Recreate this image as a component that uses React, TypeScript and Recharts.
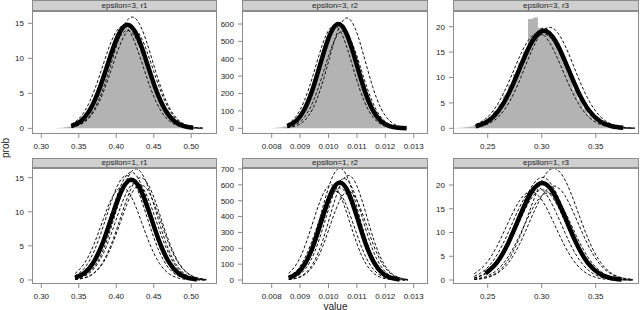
import { ComposedChart, Line, Area, XAxis, YAxis } from 'recharts';

const FONT = '"Liberation Sans", Arial, Helvetica, sans-serif';
const LINE_GREY = '#8c8c8c';
const AXIS_W = 30;
const AXIS_H = 20;
const PAD_TOP = 6;

// tick labels per column
const r1Ticks = [0.3, 0.35, 0.4, 0.45, 0.5];
const r2Ticks = [0.008, 0.009, 0.01, 0.011, 0.012, 0.013];
const r3Ticks = [0.25, 0.3, 0.35];

// ---- epsilon=3, r1
const e3r1Grid = [0.34, 0.3525, 0.365, 0.3775, 0.39, 0.4025, 0.415, 0.4275, 0.44, 0.4525, 0.465, 0.4775, 0.49, 0.5025, 0.515];
const e3r1Fit = [0.31, 1.02, 2.66, 5.64, 9.64, 13.3, 14.8, 13.3, 9.64, 5.64, 2.66, 1.02, 0.31, 0.08, null];
const e3r1Draws = [
  [0.17, 0.62, 1.81, 4.28, 8.14, 12.49, 15.48, 15.48, 12.49, 8.14, 4.28, 1.81, 0.62, 0.17, 0.04],
  [0.57, 1.66, 3.93, 7.47, 11.47, 14.21, 14.21, 11.47, 7.47, 3.93, 1.66, 0.57, 0.16, 0.04, 0.01],
  [0.29, 0.96, 2.52, 5.33, 9.11, 12.57, 14.0, 12.57, 9.11, 5.33, 2.52, 0.96, 0.29, 0.07, 0.01],
  [0.15, 0.56, 1.63, 3.85, 7.32, 11.24, 13.92, 13.92, 11.24, 7.32, 3.85, 1.63, 0.56, 0.15, 0.03],
];
const e3r1Hist = [
  0, 0, 0.01, 0.02, 0.05, 0.09, 0.15, 0.26, 0.44, 0.7,
  1.08, 1.63, 2.37, 3.33, 4.45, 5.87, 7.37, 9.3, 10.6, 11.8,
  13.3, 14.4, 14.3, 14.7, 13.9, 12.9, 11.2, 10.0, 8.5, 6.8,
  5.3, 4.0, 2.9, 2.06, 1.39, 0.92, 0.58, 0.36, 0.21, 0.12,
  0.07, 0.04, 0.02, 0.01, 0,
];

// ---- epsilon=3, r2
const e3r2Grid = [0.00855, 0.00885, 0.00915, 0.00945, 0.00975, 0.01005, 0.01035, 0.01065, 0.01095, 0.01125, 0.01155, 0.01185, 0.01215, 0.01245, 0.01275];
const e3r2Fit = [12.6, 41.2, 108, 229, 391, 539, 600, 539, 391, 229, 108, 41.2, 12.6, 3.1, 0.6];
const e3r2Draws = [
  [3.3, 13.3, 43.6, 114, 242, 413, 570, 635, 570, 413, 242, 114, 43.6, 13.3, 3.3],
  [23.1, 67.3, 159, 302, 464, 574, 574, 464, 302, 159, 67.3, 23.1, 6.4, 1.4, 0.3],
  [6.0, 21.9, 63.8, 151, 287, 440, 545, 545, 440, 287, 151, 63.8, 21.9, 6.0, 1.3],
  [12.8, 41.8, 110, 232, 397, 548, 610, 548, 397, 232, 110, 41.8, 12.8, 3.2, 0.6],
];
const e3r2Hist = [
  0.16, 0.3, 0.5, 0.9, 1.5, 2.5, 4.1, 6.5, 10.1, 15.2,
  22.6, 32.8, 46.7, 64.8, 88, 117, 151, 192, 238, 288,
  342, 402, 448, 496, 525, 569, 588,
  595, 598, 560, 537, 480, 425, 375, 325, 288, 238, 192,
  151, 117, 88, 64.8, 46.7, 32.8, 22.6, 15.2, 10.1, 6.5,
  4.1, 2.5, 1.5, 0.9, 0.5, 0.3,
];

// ---- epsilon=3, r3
const e3r3Grid = [0.239, 0.2495, 0.26, 0.2705, 0.281, 0.2915, 0.302, 0.3125, 0.323, 0.3335, 0.344, 0.3545, 0.365, 0.3755, 0.386];
const e3r3Fit = [0.4, 1.32, 3.46, 7.32, 12.5, 17.24, 19.2, 17.24, 12.5, 7.32, 3.46, 1.32, 0.4, 0.1, null];
const e3r3Draws = [
  [0.21, 0.78, 2.27, 5.35, 10.18, 15.64, 19.37, 19.37, 15.64, 10.18, 5.35, 2.27, 0.78, 0.21, 0.05],
  [0.74, 2.14, 5.06, 9.62, 14.77, 18.3, 18.3, 14.77, 9.62, 5.06, 2.14, 0.74, 0.2, 0.05, 0.01],
  [0.41, 1.35, 3.55, 7.51, 12.82, 17.69, 19.7, 17.69, 12.82, 7.51, 3.55, 1.35, 0.41, 0.1, 0.02],
  [0.39, 1.27, 3.33, 7.05, 12.04, 16.61, 18.5, 16.61, 12.04, 7.05, 3.33, 1.27, 0.39, 0.1, 0.02],
];
const e3r3Hist = [
  0.05, 0.1, 0.19, 0.35, 0.59, 0.97, 1.51, 2.33, 3.39, 4.79,
  6.51, 8.51, 10.7, 12.9, 15.1, 21.5, 21.8, 19.8, 19.6, 18.2,
  16.9, 15.0, 12.8, 10.6, 7.6, 5.6, 3.9, 2.6, 1.7, 1.1,
  0.8, 0.57, 0.34, 0.19, 0.1, 0.05, 0.03,
];

// ---- epsilon=1, r1
const e1r1Grid = [0.345, 0.3575, 0.37, 0.3825, 0.395, 0.4075, 0.42, 0.4325, 0.445, 0.4575, 0.47, 0.4825, 0.495, 0.5075, 0.52];
const e1r1Fit = [0.31, 1.01, 2.65, 5.6, 9.57, 13.2, 14.7, 13.2, 9.57, 5.6, 2.65, 1.01, 0.31, 0.08, null];
const e1r1Draws = [
  [0.18, 0.64, 1.86, 4.38, 8.34, 12.81, 15.87, 15.87, 12.81, 8.34, 4.38, 1.86, 0.64, 0.18, 0.04],
  [0.93, 2.45, 5.18, 8.85, 12.21, 13.6, 12.21, 8.85, 5.18, 2.45, 0.93, 0.29, 0.07, 0.01, 0],
  [0.07, 0.29, 0.96, 2.52, 5.33, 9.11, 12.57, 14.0, 12.57, 9.11, 5.33, 2.52, 0.96, 0.29, 0.07],
  [0.6, 1.74, 4.12, 7.83, 12.02, 14.9, 14.9, 12.02, 7.83, 4.12, 1.74, 0.6, 0.17, 0.04, 0.01],
  [0.33, 1.08, 2.84, 6.02, 10.29, 14.19, 15.8, 14.19, 10.29, 6.02, 2.84, 1.08, 0.33, 0.08, 0.02],
  [0.15, 0.56, 1.63, 3.85, 7.32, 11.24, 13.92, 13.92, 11.24, 7.32, 3.85, 1.63, 0.56, 0.15, 0.03],
  [0.08, 0.32, 1.03, 2.7, 5.72, 9.77, 13.47, 15.0, 13.47, 9.77, 5.72, 2.7, 1.03, 0.32, 0.08],
];

// ---- epsilon=1, r2
const e1r2Grid = [0.0086, 0.0089, 0.0092, 0.0095, 0.0098, 0.0101, 0.0104, 0.0107, 0.011, 0.0113, 0.0116, 0.0119, 0.0122, 0.0125, 0.0128];
const e1r2Fit = [12.9, 42.2, 111, 234, 400, 552, 615, 552, 400, 234, 111, 42.2, 12.9, 3.2, null];
const e1r2Draws = [
  [14.8, 48.4, 127, 269, 459, 633, 705, 633, 459, 269, 127, 48.4, 14.8, 3.7, 0.7],
  [3.4, 13.9, 45.3, 119, 251, 430, 593, 660, 593, 430, 251, 119, 45.3, 13.9, 3.4],
  [41.2, 108, 229, 391, 539, 600, 539, 391, 229, 108, 41.2, 12.6, 3.1, 0.6, 0.1],
  [6.9, 25.0, 73.0, 172, 327, 503, 623, 623, 503, 327, 172, 73.0, 25.0, 6.9, 1.5],
  [21.9, 63.8, 151, 287, 440, 545, 545, 440, 287, 151, 63.8, 21.9, 6.0, 1.3, 0.3],
  [2.9, 11.8, 38.4, 101, 213, 365, 503, 560, 503, 365, 213, 101, 38.4, 11.8, 2.9],
  [12.2, 39.8, 104, 221, 378, 521, 580, 521, 378, 221, 104, 39.8, 12.2, 3.0, 0.6],
];

// ---- epsilon=1, r3
const e1r3Grid = [0.2375, 0.248, 0.2585, 0.269, 0.2795, 0.29, 0.3005, 0.311, 0.3215, 0.332, 0.3425, 0.353, 0.3635, 0.374, 0.3845];
const e1r3Fit = [null, 1.4, 3.67, 7.77, 13.28, 18.32, 20.4, 18.32, 13.28, 7.77, 3.67, 1.4, 0.43, 0.11, null];
const e1r3Draws = [
  [0.12, 0.49, 1.61, 4.23, 8.95, 15.3, 21.1, 23.5, 21.1, 15.3, 8.95, 4.23, 1.61, 0.49, 0.12],
  [0.45, 1.48, 3.89, 8.23, 14.06, 19.4, 21.6, 19.4, 14.06, 8.23, 3.89, 1.48, 0.45, 0.11, 0.02],
  [0.76, 2.22, 5.25, 9.98, 15.32, 18.99, 18.99, 15.32, 9.98, 5.25, 2.22, 0.76, 0.21, 0.05, 0.01],
  [1.28, 3.35, 7.09, 12.11, 16.7, 18.6, 16.7, 12.11, 7.09, 3.35, 1.28, 0.39, 0.1, 0.02, 0],
  [0.2, 0.72, 2.09, 4.92, 9.36, 14.38, 17.82, 17.82, 14.38, 9.36, 4.92, 2.09, 0.72, 0.2, 0.04],
  [0.1, 0.42, 1.36, 3.56, 7.54, 12.89, 17.78, 19.8, 17.78, 12.89, 7.54, 3.56, 1.36, 0.42, 0.1],
  [0.4, 1.3, 3.42, 7.24, 12.37, 17.06, 19.0, 17.06, 12.37, 7.24, 3.42, 1.3, 0.4, 0.1, 0.02],
];

type Row = { x: number; [k: string]: number };

type PanelSpec = {
  title: string;
  left: number;
  width: number;
  stripTop: number;
  stripH: number;
  top: number;
  height: number;
  xDomain: [number, number];
  xTicks: number[];
  digits: number;
  yDomain: [number, number];
  yTicks: number[];
  grid: number[];
  fit: (number | null)[];
  draws: number[][];
  histStart?: number;
  histWidth?: number;
  hist?: number[];
};

function buildRows(p: PanelSpec): Row[] {
  const map = new Map<string, Row>();
  const put = (x: number, key: string, y: number | null) => {
    const id = x.toFixed(7);
    const row = map.get(id) ?? { x };
    if (y != null) row[key] = y;
    map.set(id, row);
  };
  p.grid.forEach((x, i) => {
    put(x, 'fit', p.fit[i]);
    p.draws.forEach((d, j) => put(x, 'd' + j, d[i]));
  });
  const edges: number[] = [];
  if (p.hist && p.histStart != null && p.histWidth != null) {
    for (let i = 0; i <= p.hist.length; i++) edges.push(p.histStart + i * p.histWidth);
    edges.forEach((x, i) => put(x, 'hist', i < p.hist!.length ? p.hist![i] : 0));
  }
  const rows = [...map.values()].sort((a, b) => a.x - b.x);
  // step area needs a value on every row: take the bin that holds the row
  if (edges.length) {
    rows.forEach((r) => {
      if (r.hist != null) return;
      for (let i = edges.length - 2; i >= 0; i--) {
        if (r.x >= edges[i] && r.x < edges[i + 1]) {
          r.hist = p.hist![i];
          break;
        }
      }
    });
  }
  return rows;
}

const cols = [
  { left: 32, width: 185, xDomain: [0.2876, 0.5343] as [number, number], xTicks: r1Ticks, digits: 2 },
  { left: 242, width: 186, xDomain: [0.006954, 0.013504] as [number, number], xTicks: r2Ticks, digits: 3 },
  { left: 453, width: 186, xDomain: [0.21787, 0.3901] as [number, number], xTicks: r3Ticks, digits: 2 },
];
const topRow = { stripTop: 0, stripH: 11, top: 11, height: 123 };
const botRow = { stripTop: 157.5, stripH: 10.5, top: 168, height: 116 };

const panels: PanelSpec[] = [
  { title: 'epsilon=3, r1', ...cols[0], ...topRow, yDomain: [-0.81, 16.76], yTicks: [0, 5, 10, 15],
    grid: e3r1Grid, fit: e3r1Fit, draws: e3r1Draws, histStart: 0.3, histWidth: 0.005, hist: e3r1Hist },
  { title: 'epsilon=3, r2', ...cols[1], ...topRow, yDomain: [-32.8, 674.8], yTicks: [0, 100, 200, 300, 400, 500, 600],
    grid: e3r2Grid, fit: e3r2Fit, draws: e3r2Draws, histStart: 0.0076, histWidth: 0.0001, hist: e3r2Hist },
  { title: 'epsilon=3, r3', ...cols[2], ...topRow, yDomain: [-1.12, 23.09], yTicks: [0, 5, 10, 15, 20],
    grid: e3r3Grid, fit: e3r3Fit, draws: e3r3Draws, histStart: 0.2183, histWidth: 0.0046, hist: e3r3Hist },
  { title: 'epsilon=1, r1', ...cols[0], ...botRow, yDomain: [-0.59, 16.42], yTicks: [0, 5, 10, 15],
    grid: e1r1Grid, fit: e1r1Fit, draws: e1r1Draws },
  { title: 'epsilon=1, r2', ...cols[1], ...botRow, yDomain: [-25.2, 706.3], yTicks: [0, 100, 200, 300, 400, 500, 600, 700],
    grid: e1r2Grid, fit: e1r2Fit, draws: e1r2Draws },
  { title: 'epsilon=1, r3', ...cols[2], ...botRow, yDomain: [-0.84, 23.58], yTicks: [0, 5, 10, 15, 20],
    grid: e1r3Grid, fit: e1r3Fit, draws: e1r3Draws },
];

const tickStyle = { fontSize: 8, fill: '#222', fontFamily: FONT };

function Panel({ p }: { p: PanelSpec }) {
  const rows = buildRows(p);
  return (
    <>
      <div
        style={{
          position: 'absolute', left: p.left, top: p.stripTop, width: p.width, height: p.stripH,
          background: '#d0d0d0', border: `1px solid ${LINE_GREY}`, boxSizing: 'border-box',
          fontSize: 8, lineHeight: `${p.stripH - 2}px`, textAlign: 'center', color: '#222',
        }}
      >
        {p.title}
      </div>
      <div style={{ position: 'absolute', left: p.left - AXIS_W, top: p.top - PAD_TOP }}>
        <ComposedChart
          width={p.width + AXIS_W}
          height={p.height + AXIS_H + PAD_TOP}
          data={rows}
          margin={{ top: PAD_TOP, right: 0, bottom: 0, left: 0 }}
        >
          <XAxis
            type="number" dataKey="x" domain={p.xDomain} ticks={p.xTicks} allowDataOverflow
            interval={0} height={AXIS_H} axisLine={false} tickSize={4} tickMargin={5}
            tickLine={{ stroke: LINE_GREY }} tick={tickStyle}
            tickFormatter={(v: number) => v.toFixed(p.digits)}
          />
          <YAxis
            type="number" domain={p.yDomain} ticks={p.yTicks} allowDataOverflow
            interval={0} width={AXIS_W} axisLine={false} tickSize={4} tickMargin={4}
            tickLine={{ stroke: LINE_GREY }} tick={tickStyle}
          />
          {p.hist && (
            <Area
              dataKey="hist" type="stepAfter" stroke="none" fill="#b3b3b3" fillOpacity={1}
              isAnimationActive={false} dot={false} activeDot={false}
            />
          )}
          {p.draws.map((_, j) => (
            <Line
              key={j} dataKey={'d' + j} type="natural" stroke="#111" strokeWidth={1}
              strokeDasharray="3 2" dot={false} activeDot={false} connectNulls isAnimationActive={false}
            />
          ))}
          <Line
            dataKey="fit" type="natural" stroke="#000" strokeWidth={4.5}
            dot={false} activeDot={false} connectNulls isAnimationActive={false}
          />
        </ComposedChart>
      </div>
      <div
        style={{
          position: 'absolute', left: p.left, top: p.top, width: p.width, height: p.height,
          border: `1px solid ${LINE_GREY}`, boxSizing: 'border-box', pointerEvents: 'none',
        }}
      />
    </>
  );
}

export default function App() {
  return (
    <div
      style={{
        position: 'absolute', left: 0, top: 0, width: 640, height: 310,
        background: '#fff', fontFamily: FONT, overflow: 'hidden',
      }}
    >
      {panels.map((p) => (
        <Panel key={p.title} p={p} />
      ))}
      <div
        style={{
          position: 'absolute', left: 335.5, top: 305.5, transform: 'translate(-50%, -50%)',
          fontSize: 10, color: '#222', whiteSpace: 'nowrap',
        }}
      >
        value
      </div>
      <div
        style={{
          position: 'absolute', left: 5, top: 148, transform: 'translate(-50%, -50%) rotate(-90deg)',
          fontSize: 10, color: '#222', whiteSpace: 'nowrap',
        }}
      >
        prob
      </div>
    </div>
  );
}
